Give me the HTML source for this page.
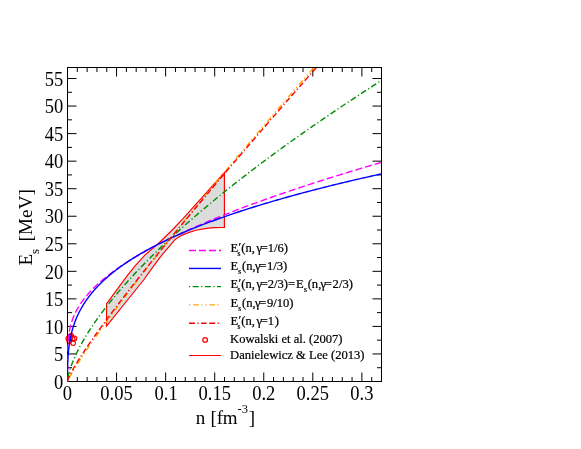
<!DOCTYPE html>
<html><head><meta charset="utf-8"><title>Symmetry energy</title>
<style>html,body{margin:0;padding:0;background:#fff}svg{display:block;will-change:transform}</style></head>
<body>
<svg width="581" height="449" viewBox="0 0 581 449">
<rect width="581" height="449" fill="#fff"/>
<defs><clipPath id="c"><rect x="67.15" y="67.5" width="314.35" height="314.35"/></clipPath></defs>
<g clip-path="url(#c)">
<path d="M106.5,303.9 L126.7,276.4 L135.1,265.8 L144.9,255.1 L160,242.0 L166.1,236.0 L171.8,230.5 L182.8,218.8 L224.4,172.5 L224.4,227.4 L213,227.6 L205,228.6 L196,230.3 L189.1,232.4 L182.2,235.1 L177.4,237.9 L174.6,240 L171.9,243.4 L167.1,248.9 L160,257.4 L151.2,269.4 L143.6,280 L106.5,326.2Z" fill="#dcdcdc" stroke="#ff0000" stroke-width="1.15" stroke-linejoin="miter"/>
</g>
<circle cx="68.3" cy="338.6" r="2.35" fill="none" stroke="#ff0000" stroke-width="1.1"/>
<circle cx="69.3" cy="337.5" r="2.35" fill="none" stroke="#ff0000" stroke-width="1.1"/>
<circle cx="70.3" cy="336.5" r="2.35" fill="none" stroke="#ff0000" stroke-width="1.1"/>
<circle cx="71.2" cy="335.6" r="2.35" fill="none" stroke="#ff0000" stroke-width="1.1"/>
<circle cx="72.6" cy="338.9" r="2.35" fill="none" stroke="#ff0000" stroke-width="1.1"/>
<circle cx="74.4" cy="338.5" r="2.35" fill="none" stroke="#ff0000" stroke-width="1.1"/>
<circle cx="73.1" cy="343.1" r="2.35" fill="none" stroke="#ff0000" stroke-width="1.1"/>
<circle cx="69.2" cy="341.0" r="2.35" fill="none" stroke="#ff0000" stroke-width="1.1"/>
<rect x="67.5" y="67.5" width="314.0" height="314.0" fill="none" stroke="#000" stroke-width="1"/>
<path d="M67.50,381.5v-9M67.50,67.5v9M77.31,381.5v-4.5M77.31,67.5v4.5M87.12,381.5v-4.5M87.12,67.5v4.5M96.94,381.5v-4.5M96.94,67.5v4.5M106.75,381.5v-4.5M106.75,67.5v4.5M116.56,381.5v-9M116.56,67.5v9M126.38,381.5v-4.5M126.38,67.5v4.5M136.19,381.5v-4.5M136.19,67.5v4.5M146.00,381.5v-4.5M146.00,67.5v4.5M155.81,381.5v-4.5M155.81,67.5v4.5M165.62,381.5v-9M165.62,67.5v9M175.44,381.5v-4.5M175.44,67.5v4.5M185.25,381.5v-4.5M185.25,67.5v4.5M195.06,381.5v-4.5M195.06,67.5v4.5M204.88,381.5v-4.5M204.88,67.5v4.5M214.69,381.5v-9M214.69,67.5v9M224.50,381.5v-4.5M224.50,67.5v4.5M234.31,381.5v-4.5M234.31,67.5v4.5M244.12,381.5v-4.5M244.12,67.5v4.5M253.94,381.5v-4.5M253.94,67.5v4.5M263.75,381.5v-9M263.75,67.5v9M273.56,381.5v-4.5M273.56,67.5v4.5M283.38,381.5v-4.5M283.38,67.5v4.5M293.19,381.5v-4.5M293.19,67.5v4.5M303.00,381.5v-4.5M303.00,67.5v4.5M312.81,381.5v-9M312.81,67.5v9M322.62,381.5v-4.5M322.62,67.5v4.5M332.44,381.5v-4.5M332.44,67.5v4.5M342.25,381.5v-4.5M342.25,67.5v4.5M352.06,381.5v-4.5M352.06,67.5v4.5M361.88,381.5v-9M361.88,67.5v9M371.69,381.5v-4.5M371.69,67.5v4.5M381.50,381.5v-4.5M381.50,67.5v4.5M67.5,381.50h9M381.5,381.50h-9M67.5,367.73h4.5M381.5,367.73h-4.5M67.5,353.96h9M381.5,353.96h-9M67.5,340.18h4.5M381.5,340.18h-4.5M67.5,326.41h9M381.5,326.41h-9M67.5,312.64h4.5M381.5,312.64h-4.5M67.5,298.87h9M381.5,298.87h-9M67.5,285.10h4.5M381.5,285.10h-4.5M67.5,271.32h9M381.5,271.32h-9M67.5,257.55h4.5M381.5,257.55h-4.5M67.5,243.78h9M381.5,243.78h-9M67.5,230.01h4.5M381.5,230.01h-4.5M67.5,216.24h9M381.5,216.24h-9M67.5,202.46h4.5M381.5,202.46h-4.5M67.5,188.69h9M381.5,188.69h-9M67.5,174.92h4.5M381.5,174.92h-4.5M67.5,161.15h9M381.5,161.15h-9M67.5,147.38h4.5M381.5,147.38h-4.5M67.5,133.61h9M381.5,133.61h-9M67.5,119.83h4.5M381.5,119.83h-4.5M67.5,106.06h9M381.5,106.06h-9M67.5,92.29h4.5M381.5,92.29h-4.5M67.5,78.52h9M381.5,78.52h-9" stroke="#000" stroke-width="1" fill="none"/>
<g clip-path="url(#c)">
<path d="M67.50,381.50 L67.50,365.39 L67.51,361.14 L67.53,358.12 L67.55,355.69 L67.58,353.61 L67.61,351.77 L67.65,350.11 L67.70,348.58 L67.75,347.16 L67.81,345.83 L67.87,344.56 L67.94,343.36 L68.02,342.21 L68.10,341.11 L68.19,340.05 L68.28,339.02 L68.39,338.02 L68.49,337.06 L68.61,336.12 L68.73,335.20 L68.85,334.30 L68.98,333.42 L69.12,332.56 L69.27,331.72 L69.42,330.89 L69.57,330.08 L69.74,329.28 L69.90,328.49 L70.08,327.71 L70.26,326.94 L70.45,326.19 L70.64,325.44 L70.84,324.70 L71.04,323.97 L71.26,323.25 L71.47,322.54 L71.70,321.83 L71.93,321.13 L72.16,320.43 L72.41,319.75 L72.65,319.06 L72.91,318.39 L73.17,317.71 L73.44,317.05 L73.71,316.39 L73.99,315.73 L74.27,315.07 L74.56,314.42 L74.86,313.78 L75.17,313.14 L75.48,312.50 L75.79,311.87 L76.11,311.23 L76.44,310.61 L76.78,309.98 L77.12,309.36 L77.46,308.74 L77.82,308.12 L78.17,307.51 L78.54,306.90 L78.91,306.29 L79.29,305.68 L79.67,305.08 L80.06,304.48 L80.46,303.88 L80.86,303.28 L81.27,302.68 L81.68,302.09 L82.10,301.50 L82.53,300.91 L82.96,300.32 L83.40,299.73 L83.84,299.15 L84.29,298.56 L84.75,297.98 L85.21,297.40 L85.68,296.82 L86.16,296.24 L86.64,295.66 L87.12,295.09 L87.62,294.51 L88.12,293.94 L88.62,293.37 L89.14,292.80 L89.65,292.23 L90.18,291.66 L90.71,291.09 L91.25,290.52 L91.79,289.95 L92.34,289.39 L92.89,288.82 L93.45,288.26 L94.02,287.70 L94.59,287.14 L95.17,286.57 L95.76,286.01 L96.35,285.45 L96.95,284.89 L97.55,284.34 L98.16,283.78 L98.78,283.22 L99.40,282.66 L100.03,282.11 L100.67,281.55 L101.31,281.00 L101.95,280.44 L102.61,279.89 L103.27,279.34 L103.93,278.78 L104.60,278.23 L105.28,277.68 L105.97,277.13 L106.65,276.58 L107.35,276.03 L108.05,275.48 L108.76,274.93 L109.48,274.38 L110.20,273.83 L110.92,273.28 L111.66,272.73 L112.40,272.18 L113.14,271.63 L113.89,271.08 L114.65,270.54 L115.41,269.99 L116.18,269.44 L116.96,268.90 L117.74,268.35 L118.53,267.80 L119.32,267.26 L120.12,266.71 L120.93,266.17 L121.74,265.62 L122.56,265.08 L123.39,264.53 L124.22,263.99 L125.05,263.44 L125.90,262.90 L126.75,262.35 L127.60,261.81 L128.46,261.26 L129.33,260.72 L130.20,260.17 L131.09,259.63 L131.97,259.09 L132.86,258.54 L133.76,258.00 L134.67,257.46 L135.58,256.91 L136.49,256.37 L137.42,255.83 L138.35,255.28 L139.28,254.74 L140.22,254.20 L141.17,253.65 L142.12,253.11 L143.08,252.57 L144.05,252.02 L145.02,251.48 L146.00,250.94 L146.98,250.39 L147.97,249.85 L148.97,249.31 L149.97,248.76 L150.98,248.22 L152.00,247.68 L153.02,247.13 L154.05,246.59 L155.08,246.05 L156.12,245.50 L157.16,244.96 L158.22,244.42 L159.27,243.87 L160.34,243.33 L161.41,242.79 L162.49,242.24 L163.57,241.70 L164.66,241.16 L165.75,240.61 L166.85,240.07 L167.96,239.52 L169.07,238.98 L170.19,238.44 L171.32,237.89 L172.45,237.35 L173.59,236.80 L174.73,236.26 L175.88,235.72 L177.04,235.17 L178.20,234.63 L179.37,234.08 L180.54,233.54 L181.72,232.99 L182.91,232.45 L184.10,231.90 L185.30,231.36 L186.50,230.81 L187.72,230.26 L188.93,229.72 L190.16,229.17 L191.39,228.63 L192.62,228.08 L193.86,227.53 L195.11,226.99 L196.37,226.44 L197.63,225.89 L198.89,225.35 L200.17,224.80 L201.44,224.25 L202.73,223.71 L204.02,223.16 L205.32,222.61 L206.62,222.06 L207.93,221.52 L209.24,220.97 L210.57,220.42 L211.89,219.87 L213.23,219.32 L214.57,218.77 L215.91,218.23 L217.27,217.68 L218.62,217.13 L219.99,216.58 L221.36,216.03 L222.74,215.48 L224.12,214.93 L225.51,214.38 L226.90,213.83 L228.31,213.28 L229.71,212.73 L231.13,212.18 L232.55,211.63 L233.97,211.08 L235.40,210.52 L236.84,209.97 L238.29,209.42 L239.74,208.87 L241.19,208.32 L242.66,207.77 L244.12,207.21 L245.60,206.66 L247.08,206.11 L248.57,205.55 L250.06,205.00 L251.56,204.45 L253.07,203.90 L254.58,203.34 L256.10,202.79 L257.62,202.23 L259.15,201.68 L260.69,201.12 L262.23,200.57 L263.78,200.02 L265.33,199.46 L266.89,198.90 L268.46,198.35 L270.03,197.79 L271.61,197.24 L273.20,196.68 L274.79,196.13 L276.39,195.57 L277.99,195.01 L279.60,194.46 L281.22,193.90 L282.84,193.34 L284.47,192.78 L286.10,192.23 L287.74,191.67 L289.39,191.11 L291.04,190.55 L292.70,189.99 L294.37,189.43 L296.04,188.87 L297.71,188.31 L299.40,187.76 L301.09,187.20 L302.78,186.64 L304.48,186.08 L306.19,185.51 L307.91,184.95 L309.63,184.39 L311.35,183.83 L313.09,183.27 L314.82,182.71 L316.57,182.15 L318.32,181.59 L320.08,181.02 L321.84,180.46 L323.61,179.90 L325.38,179.34 L327.17,178.77 L328.95,178.21 L330.75,177.65 L332.55,177.08 L334.35,176.52 L336.17,175.95 L337.98,175.39 L339.81,174.83 L341.64,174.26 L343.48,173.70 L345.32,173.13 L347.17,172.56 L349.02,172.00 L350.88,171.43 L352.75,170.87 L354.63,170.30 L356.51,169.73 L358.39,169.17 L360.28,168.60 L362.18,168.03 L364.09,167.46 L366.00,166.90 L367.91,166.33 L369.84,165.76 L371.76,165.19 L373.70,164.62 L375.64,164.05 L377.59,163.48 L379.54,162.91 L381.50,162.34" fill="none" stroke="#ff00ff" stroke-width="1.4" stroke-dasharray="7 3"/>
<path d="M67.50,381.50 L67.50,377.06 L67.51,374.45 L67.53,372.27 L67.55,370.32 L67.58,368.52 L67.61,366.84 L67.65,365.26 L67.70,363.75 L67.75,362.30 L67.81,360.90 L67.87,359.55 L67.94,358.24 L68.02,356.96 L68.10,355.72 L68.19,354.50 L68.28,353.32 L68.39,352.15 L68.49,351.01 L68.61,349.90 L68.73,348.80 L68.85,347.71 L68.98,346.65 L69.12,345.60 L69.27,344.57 L69.42,343.55 L69.57,342.54 L69.74,341.55 L69.90,340.57 L70.08,339.60 L70.26,338.65 L70.45,337.70 L70.64,336.76 L70.84,335.83 L71.04,334.92 L71.26,334.01 L71.47,333.11 L71.70,332.21 L71.93,331.33 L72.16,330.45 L72.41,329.59 L72.65,328.72 L72.91,327.87 L73.17,327.02 L73.44,326.18 L73.71,325.34 L73.99,324.52 L74.27,323.69 L74.56,322.88 L74.86,322.06 L75.17,321.26 L75.48,320.46 L75.79,319.66 L76.11,318.87 L76.44,318.09 L76.78,317.31 L77.12,316.53 L77.46,315.76 L77.82,314.99 L78.17,314.23 L78.54,313.47 L78.91,312.72 L79.29,311.97 L79.67,311.22 L80.06,310.48 L80.46,309.74 L80.86,309.01 L81.27,308.28 L81.68,307.55 L82.10,306.83 L82.53,306.11 L82.96,305.39 L83.40,304.68 L83.84,303.97 L84.29,303.26 L84.75,302.56 L85.21,301.86 L85.68,301.16 L86.16,300.47 L86.64,299.78 L87.12,299.09 L87.62,298.41 L88.12,297.72 L88.62,297.04 L89.14,296.37 L89.65,295.69 L90.18,295.02 L90.71,294.35 L91.25,293.68 L91.79,293.02 L92.34,292.36 L92.89,291.70 L93.45,291.04 L94.02,290.39 L94.59,289.74 L95.17,289.09 L95.76,288.44 L96.35,287.79 L96.95,287.15 L97.55,286.51 L98.16,285.87 L98.78,285.24 L99.40,284.60 L100.03,283.97 L100.67,283.34 L101.31,282.71 L101.95,282.08 L102.61,281.46 L103.27,280.84 L103.93,280.22 L104.60,279.60 L105.28,278.98 L105.97,278.37 L106.65,277.75 L107.35,277.14 L108.05,276.53 L108.76,275.93 L109.48,275.32 L110.20,274.72 L110.92,274.11 L111.66,273.51 L112.40,272.91 L113.14,272.32 L113.89,271.72 L114.65,271.13 L115.41,270.53 L116.18,269.94 L116.96,269.35 L117.74,268.77 L118.53,268.18 L119.32,267.59 L120.12,267.01 L120.93,266.43 L121.74,265.85 L122.56,265.27 L123.39,264.69 L124.22,264.12 L125.05,263.54 L125.90,262.97 L126.75,262.40 L127.60,261.83 L128.46,261.26 L129.33,260.69 L130.20,260.12 L131.09,259.56 L131.97,258.99 L132.86,258.43 L133.76,257.87 L134.67,257.31 L135.58,256.75 L136.49,256.19 L137.42,255.64 L138.35,255.08 L139.28,254.53 L140.22,253.97 L141.17,253.42 L142.12,252.87 L143.08,252.32 L144.05,251.78 L145.02,251.23 L146.00,250.68 L146.98,250.14 L147.97,249.60 L148.97,249.05 L149.97,248.51 L150.98,247.97 L152.00,247.43 L153.02,246.90 L154.05,246.36 L155.08,245.82 L156.12,245.29 L157.16,244.75 L158.22,244.22 L159.27,243.69 L160.34,243.16 L161.41,242.63 L162.49,242.10 L163.57,241.57 L164.66,241.05 L165.75,240.52 L166.85,240.00 L167.96,239.47 L169.07,238.95 L170.19,238.43 L171.32,237.91 L172.45,237.39 L173.59,236.87 L174.73,236.35 L175.88,235.84 L177.04,235.32 L178.20,234.80 L179.37,234.29 L180.54,233.78 L181.72,233.26 L182.91,232.75 L184.10,232.24 L185.30,231.73 L186.50,231.22 L187.72,230.71 L188.93,230.21 L190.16,229.70 L191.39,229.20 L192.62,228.69 L193.86,228.19 L195.11,227.68 L196.37,227.18 L197.63,226.68 L198.89,226.18 L200.17,225.68 L201.44,225.18 L202.73,224.68 L204.02,224.19 L205.32,223.69 L206.62,223.19 L207.93,222.70 L209.24,222.20 L210.57,221.71 L211.89,221.22 L213.23,220.72 L214.57,220.23 L215.91,219.74 L217.27,219.25 L218.62,218.76 L219.99,218.28 L221.36,217.79 L222.74,217.30 L224.12,216.82 L225.51,216.33 L226.90,215.84 L228.31,215.36 L229.71,214.88 L231.13,214.39 L232.55,213.91 L233.97,213.43 L235.40,212.95 L236.84,212.47 L238.29,211.99 L239.74,211.51 L241.19,211.04 L242.66,210.56 L244.12,210.08 L245.60,209.61 L247.08,209.13 L248.57,208.66 L250.06,208.18 L251.56,207.71 L253.07,207.24 L254.58,206.77 L256.10,206.29 L257.62,205.82 L259.15,205.35 L260.69,204.88 L262.23,204.41 L263.78,203.95 L265.33,203.48 L266.89,203.01 L268.46,202.55 L270.03,202.08 L271.61,201.62 L273.20,201.15 L274.79,200.69 L276.39,200.22 L277.99,199.76 L279.60,199.30 L281.22,198.84 L282.84,198.38 L284.47,197.92 L286.10,197.46 L287.74,197.00 L289.39,196.54 L291.04,196.08 L292.70,195.62 L294.37,195.17 L296.04,194.71 L297.71,194.25 L299.40,193.80 L301.09,193.34 L302.78,192.89 L304.48,192.43 L306.19,191.98 L307.91,191.53 L309.63,191.08 L311.35,190.63 L313.09,190.17 L314.82,189.72 L316.57,189.27 L318.32,188.82 L320.08,188.38 L321.84,187.93 L323.61,187.48 L325.38,187.03 L327.17,186.59 L328.95,186.14 L330.75,185.69 L332.55,185.25 L334.35,184.80 L336.17,184.36 L337.98,183.92 L339.81,183.47 L341.64,183.03 L343.48,182.59 L345.32,182.15 L347.17,181.70 L349.02,181.26 L350.88,180.82 L352.75,180.38 L354.63,179.94 L356.51,179.50 L358.39,179.07 L360.28,178.63 L362.18,178.19 L364.09,177.75 L366.00,177.32 L367.91,176.88 L369.84,176.45 L371.76,176.01 L373.70,175.58 L375.64,175.14 L377.59,174.71 L379.54,174.27 L381.50,173.84" fill="none" stroke="#0000ff" stroke-width="1.4"/>
<path d="M67.50,381.50 L67.50,381.36 L67.51,381.15 L67.53,380.90 L67.55,380.63 L67.58,380.32 L67.61,380.00 L67.65,379.66 L67.70,379.30 L67.75,378.92 L67.81,378.54 L67.87,378.13 L67.94,377.72 L68.02,377.30 L68.10,376.86 L68.19,376.41 L68.28,375.95 L68.39,375.49 L68.49,375.01 L68.61,374.53 L68.73,374.03 L68.85,373.53 L68.98,373.02 L69.12,372.50 L69.27,371.98 L69.42,371.44 L69.57,370.91 L69.74,370.36 L69.90,369.80 L70.08,369.24 L70.26,368.68 L70.45,368.10 L70.64,367.53 L70.84,366.94 L71.04,366.35 L71.26,365.75 L71.47,365.15 L71.70,364.54 L71.93,363.93 L72.16,363.31 L72.41,362.68 L72.65,362.05 L72.91,361.42 L73.17,360.78 L73.44,360.13 L73.71,359.48 L73.99,358.83 L74.27,358.17 L74.56,357.50 L74.86,356.84 L75.17,356.16 L75.48,355.48 L75.79,354.80 L76.11,354.12 L76.44,353.42 L76.78,352.73 L77.12,352.03 L77.46,351.33 L77.82,350.62 L78.17,349.91 L78.54,349.19 L78.91,348.47 L79.29,347.75 L79.67,347.02 L80.06,346.29 L80.46,345.55 L80.86,344.81 L81.27,344.07 L81.68,343.32 L82.10,342.57 L82.53,341.82 L82.96,341.06 L83.40,340.30 L83.84,339.53 L84.29,338.77 L84.75,337.99 L85.21,337.22 L85.68,336.44 L86.16,335.66 L86.64,334.87 L87.12,334.08 L87.62,333.29 L88.12,332.50 L88.62,331.70 L89.14,330.90 L89.65,330.09 L90.18,329.28 L90.71,328.47 L91.25,327.66 L91.79,326.84 L92.34,326.02 L92.89,325.20 L93.45,324.37 L94.02,323.54 L94.59,322.71 L95.17,321.87 L95.76,321.04 L96.35,320.19 L96.95,319.35 L97.55,318.50 L98.16,317.65 L98.78,316.80 L99.40,315.95 L100.03,315.09 L100.67,314.23 L101.31,313.36 L101.95,312.50 L102.61,311.63 L103.27,310.75 L103.93,309.88 L104.60,309.00 L105.28,308.12 L105.97,307.24 L106.65,306.35 L107.35,305.47 L108.05,304.58 L108.76,303.68 L109.48,302.79 L110.20,301.89 L110.92,300.99 L111.66,300.08 L112.40,299.18 L113.14,298.27 L113.89,297.36 L114.65,296.45 L115.41,295.53 L116.18,294.61 L116.96,293.69 L117.74,292.77 L118.53,291.84 L119.32,290.91 L120.12,289.98 L120.93,289.05 L121.74,288.12 L122.56,287.18 L123.39,286.24 L124.22,285.30 L125.05,284.35 L125.90,283.41 L126.75,282.46 L127.60,281.51 L128.46,280.55 L129.33,279.60 L130.20,278.64 L131.09,277.68 L131.97,276.72 L132.86,275.75 L133.76,274.79 L134.67,273.82 L135.58,272.84 L136.49,271.87 L137.42,270.90 L138.35,269.92 L139.28,268.94 L140.22,267.96 L141.17,266.97 L142.12,265.99 L143.08,265.00 L144.05,264.01 L145.02,263.01 L146.00,262.02 L146.98,261.02 L147.97,260.02 L148.97,259.02 L149.97,258.02 L150.98,257.02 L152.00,256.01 L153.02,255.00 L154.05,253.99 L155.08,252.98 L156.12,251.96 L157.16,250.94 L158.22,249.93 L159.27,248.90 L160.34,247.88 L161.41,246.86 L162.49,245.83 L163.57,244.80 L164.66,243.77 L165.75,242.74 L166.85,241.70 L167.96,240.67 L169.07,239.63 L170.19,238.59 L171.32,237.55 L172.45,236.50 L173.59,235.46 L174.73,234.41 L175.88,233.36 L177.04,232.31 L178.20,231.25 L179.37,230.20 L180.54,229.14 L181.72,228.08 L182.91,227.02 L184.10,225.96 L185.30,224.89 L186.50,223.83 L187.72,222.76 L188.93,221.69 L190.16,220.62 L191.39,219.54 L192.62,218.47 L193.86,217.39 L195.11,216.31 L196.37,215.23 L197.63,214.15 L198.89,213.07 L200.17,211.98 L201.44,210.89 L202.73,209.80 L204.02,208.71 L205.32,207.62 L206.62,206.53 L207.93,205.43 L209.24,204.33 L210.57,203.23 L211.89,202.13 L213.23,201.03 L214.57,199.92 L215.91,198.82 L217.27,197.71 L218.62,196.60 L219.99,195.49 L221.36,194.37 L222.74,193.26 L224.12,192.14 L225.51,191.03 L226.90,189.91 L228.31,188.78 L229.71,187.66 L231.13,186.54 L232.55,185.41 L233.97,184.28 L235.40,183.15 L236.84,182.02 L238.29,180.89 L239.74,179.76 L241.19,178.62 L242.66,177.48 L244.12,176.34 L245.60,175.20 L247.08,174.06 L248.57,172.92 L250.06,171.77 L251.56,170.63 L253.07,169.48 L254.58,168.33 L256.10,167.18 L257.62,166.02 L259.15,164.87 L260.69,163.71 L262.23,162.55 L263.78,161.40 L265.33,160.23 L266.89,159.07 L268.46,157.91 L270.03,156.74 L271.61,155.58 L273.20,154.41 L274.79,153.24 L276.39,152.07 L277.99,150.89 L279.60,149.72 L281.22,148.54 L282.84,147.37 L284.47,146.19 L286.10,145.01 L287.74,143.83 L289.39,142.64 L291.04,141.46 L292.70,140.27 L294.37,139.08 L296.04,137.90 L297.71,136.70 L299.40,135.51 L301.09,134.32 L302.78,133.12 L304.48,131.93 L306.19,130.73 L307.91,129.53 L309.63,128.33 L311.35,127.13 L313.09,125.93 L314.82,124.72 L316.57,123.51 L318.32,122.31 L320.08,121.10 L321.84,119.89 L323.61,118.68 L325.38,117.46 L327.17,116.25 L328.95,115.03 L330.75,113.81 L332.55,112.60 L334.35,111.38 L336.17,110.15 L337.98,108.93 L339.81,107.71 L341.64,106.48 L343.48,105.25 L345.32,104.02 L347.17,102.80 L349.02,101.56 L350.88,100.33 L352.75,99.10 L354.63,97.86 L356.51,96.63 L358.39,95.39 L360.28,94.15 L362.18,92.91 L364.09,91.67 L366.00,90.42 L367.91,89.18 L369.84,87.93 L371.76,86.69 L373.70,85.44 L375.64,84.19 L377.59,82.94 L379.54,81.68 L381.50,80.43" fill="none" stroke="#008b00" stroke-width="1.4" stroke-dasharray="1.2 2.5 6 2.5"/>
<path d="M67.50,381.50 L67.50,381.49 L67.51,381.46 L67.53,381.41 L67.55,381.35 L67.58,381.28 L67.61,381.20 L67.65,381.10 L67.70,380.99 L67.75,380.87 L67.81,380.74 L67.87,380.59 L67.94,380.44 L68.02,380.28 L68.10,380.10 L68.19,379.92 L68.28,379.72 L68.39,379.52 L68.49,379.30 L68.61,379.08 L68.73,378.84 L68.85,378.60 L68.98,378.35 L69.12,378.08 L69.27,377.81 L69.42,377.53 L69.57,377.24 L69.74,376.94 L69.90,376.63 L70.08,376.32 L70.26,375.99 L70.45,375.66 L70.64,375.31 L70.84,374.96 L71.04,374.60 L71.26,374.23 L71.47,373.85 L71.70,373.46 L71.93,373.07 L72.16,372.66 L72.41,372.25 L72.65,371.83 L72.91,371.40 L73.17,370.97 L73.44,370.52 L73.71,370.07 L73.99,369.61 L74.27,369.14 L74.56,368.66 L74.86,368.17 L75.17,367.68 L75.48,367.18 L75.79,366.67 L76.11,366.15 L76.44,365.63 L76.78,365.10 L77.12,364.55 L77.46,364.01 L77.82,363.45 L78.17,362.89 L78.54,362.31 L78.91,361.73 L79.29,361.15 L79.67,360.55 L80.06,359.95 L80.46,359.34 L80.86,358.72 L81.27,358.10 L81.68,357.47 L82.10,356.83 L82.53,356.18 L82.96,355.52 L83.40,354.86 L83.84,354.19 L84.29,353.51 L84.75,352.83 L85.21,352.14 L85.68,351.44 L86.16,350.73 L86.64,350.02 L87.12,349.30 L87.62,348.57 L88.12,347.83 L88.62,347.09 L89.14,346.34 L89.65,345.58 L90.18,344.82 L90.71,344.05 L91.25,343.27 L91.79,342.49 L92.34,341.69 L92.89,340.89 L93.45,340.09 L94.02,339.27 L94.59,338.45 L95.17,337.62 L95.76,336.79 L96.35,335.95 L96.95,335.10 L97.55,334.24 L98.16,333.38 L98.78,332.51 L99.40,331.63 L100.03,330.75 L100.67,329.86 L101.31,328.96 L101.95,328.06 L102.61,327.15 L103.27,326.23 L103.93,325.31 L104.60,324.37 L105.28,323.44 L105.97,322.49 L106.65,321.54 L107.35,320.58 L108.05,319.62 L108.76,318.64 L109.48,317.67 L110.20,316.68 L110.92,315.69 L111.66,314.69 L112.40,313.68 L113.14,312.67 L113.89,311.65 L114.65,310.63 L115.41,309.59 L116.18,308.56 L116.96,307.51 L117.74,306.46 L118.53,305.40 L119.32,304.33 L120.12,303.26 L120.93,302.18 L121.74,301.10 L122.56,300.01 L123.39,298.91 L124.22,297.81 L125.05,296.70 L125.90,295.58 L126.75,294.45 L127.60,293.32 L128.46,292.19 L129.33,291.04 L130.20,289.89 L131.09,288.74 L131.97,287.57 L132.86,286.40 L133.76,285.23 L134.67,284.05 L135.58,282.86 L136.49,281.66 L137.42,280.46 L138.35,279.26 L139.28,278.04 L140.22,276.82 L141.17,275.59 L142.12,274.36 L143.08,273.12 L144.05,271.88 L145.02,270.62 L146.00,269.37 L146.98,268.10 L147.97,266.83 L148.97,265.55 L149.97,264.27 L150.98,262.98 L152.00,261.68 L153.02,260.38 L154.05,259.07 L155.08,257.76 L156.12,256.44 L157.16,255.11 L158.22,253.78 L159.27,252.44 L160.34,251.09 L161.41,249.74 L162.49,248.38 L163.57,247.01 L164.66,245.64 L165.75,244.27 L166.85,242.88 L167.96,241.49 L169.07,240.10 L170.19,238.70 L171.32,237.29 L172.45,235.88 L173.59,234.46 L174.73,233.03 L175.88,231.60 L177.04,230.16 L178.20,228.72 L179.37,227.27 L180.54,225.81 L181.72,224.35 L182.91,222.88 L184.10,221.40 L185.30,219.92 L186.50,218.43 L187.72,216.94 L188.93,215.44 L190.16,213.94 L191.39,212.43 L192.62,210.91 L193.86,209.39 L195.11,207.86 L196.37,206.32 L197.63,204.78 L198.89,203.23 L200.17,201.68 L201.44,200.12 L202.73,198.56 L204.02,196.99 L205.32,195.41 L206.62,193.83 L207.93,192.24 L209.24,190.64 L210.57,189.04 L211.89,187.43 L213.23,185.82 L214.57,184.20 L215.91,182.58 L217.27,180.95 L218.62,179.31 L219.99,177.67 L221.36,176.02 L222.74,174.37 L224.12,172.71 L225.51,171.04 L226.90,169.37 L228.31,167.69 L229.71,166.01 L231.13,164.32 L232.55,162.62 L233.97,160.92 L235.40,159.21 L236.84,157.50 L238.29,155.78 L239.74,154.06 L241.19,152.33 L242.66,150.59 L244.12,148.85 L245.60,147.10 L247.08,145.35 L248.57,143.59 L250.06,141.82 L251.56,140.05 L253.07,138.28 L254.58,136.49 L256.10,134.71 L257.62,132.91 L259.15,131.11 L260.69,129.31 L262.23,127.49 L263.78,125.68 L265.33,123.85 L266.89,122.03 L268.46,120.19 L270.03,118.35 L271.61,116.50 L273.20,114.65 L274.79,112.80 L276.39,110.93 L277.99,109.06 L279.60,107.19 L281.22,105.31 L282.84,103.42 L284.47,101.53 L286.10,99.63 L287.74,97.73 L289.39,95.82 L291.04,93.91 L292.70,91.99 L294.37,90.06 L296.04,88.13 L297.71,86.19 L299.40,84.25 L301.09,82.30 L302.78,80.35 L304.48,78.39 L306.19,76.42 L307.91,74.45 L309.63,72.47 L311.35,70.49 L313.09,68.50 L314.82,66.51 L316.57,64.51 L318.32,62.51 L320.08,60.50 L321.84,58.48 L323.61,56.46 L325.38,54.43 L327.17,52.40 L328.95,50.36 L330.75,48.32 L332.55,46.27 L334.35,44.21 L336.17,42.15 L337.98,40.08 L339.81,38.01 L341.64,35.93 L343.48,33.85 L345.32,31.76 L347.17,29.67 L349.02,27.57 L350.88,25.46 L352.75,23.35 L354.63,21.24 L356.51,19.11 L358.39,16.99 L360.28,14.85 L362.18,12.71 L364.09,10.57 L366.00,8.42 L367.91,6.27 L369.84,4.10 L371.76,1.94 L373.70,-0.23 L375.64,-2.41 L377.59,-4.59 L379.54,-6.78 L381.50,-8.97" fill="none" stroke="#ffa500" stroke-width="1.4" stroke-dasharray="1.2 2.8 1.2 3 5.6 2.4" stroke-dashoffset="4"/>
<path d="M67.50,381.50 L67.50,381.45 L67.51,381.36 L67.53,381.26 L67.55,381.14 L67.58,381.01 L67.61,380.86 L67.65,380.70 L67.70,380.53 L67.75,380.35 L67.81,380.15 L67.87,379.95 L67.94,379.74 L68.02,379.51 L68.10,379.28 L68.19,379.04 L68.28,378.79 L68.39,378.53 L68.49,378.26 L68.61,377.99 L68.73,377.70 L68.85,377.41 L68.98,377.11 L69.12,376.80 L69.27,376.48 L69.42,376.15 L69.57,375.82 L69.74,375.48 L69.90,375.13 L70.08,374.77 L70.26,374.40 L70.45,374.03 L70.64,373.65 L70.84,373.26 L71.04,372.86 L71.26,372.46 L71.47,372.04 L71.70,371.63 L71.93,371.20 L72.16,370.77 L72.41,370.32 L72.65,369.88 L72.91,369.42 L73.17,368.96 L73.44,368.49 L73.71,368.01 L73.99,367.52 L74.27,367.03 L74.56,366.53 L74.86,366.03 L75.17,365.51 L75.48,364.99 L75.79,364.47 L76.11,363.93 L76.44,363.39 L76.78,362.84 L77.12,362.29 L77.46,361.72 L77.82,361.15 L78.17,360.58 L78.54,359.99 L78.91,359.40 L79.29,358.81 L79.67,358.20 L80.06,357.59 L80.46,356.98 L80.86,356.35 L81.27,355.72 L81.68,355.08 L82.10,354.44 L82.53,353.79 L82.96,353.13 L83.40,352.47 L83.84,351.79 L84.29,351.12 L84.75,350.43 L85.21,349.74 L85.68,349.04 L86.16,348.34 L86.64,347.63 L87.12,346.91 L87.62,346.18 L88.12,345.45 L88.62,344.71 L89.14,343.97 L89.65,343.22 L90.18,342.46 L90.71,341.70 L91.25,340.93 L91.79,340.15 L92.34,339.37 L92.89,338.57 L93.45,337.78 L94.02,336.97 L94.59,336.16 L95.17,335.35 L95.76,334.53 L96.35,333.70 L96.95,332.86 L97.55,332.02 L98.16,331.17 L98.78,330.31 L99.40,329.45 L100.03,328.58 L100.67,327.71 L101.31,326.83 L101.95,325.94 L102.61,325.05 L103.27,324.15 L103.93,323.24 L104.60,322.33 L105.28,321.41 L105.97,320.48 L106.65,319.55 L107.35,318.61 L108.05,317.66 L108.76,316.71 L109.48,315.75 L110.20,314.79 L110.92,313.82 L111.66,312.84 L112.40,311.86 L113.14,310.87 L113.89,309.87 L114.65,308.87 L115.41,307.86 L116.18,306.85 L116.96,305.83 L117.74,304.80 L118.53,303.77 L119.32,302.73 L120.12,301.68 L120.93,300.63 L121.74,299.57 L122.56,298.50 L123.39,297.43 L124.22,296.35 L125.05,295.27 L125.90,294.18 L126.75,293.08 L127.60,291.98 L128.46,290.87 L129.33,289.76 L130.20,288.63 L131.09,287.51 L131.97,286.37 L132.86,285.23 L133.76,284.09 L134.67,282.93 L135.58,281.77 L136.49,280.61 L137.42,279.44 L138.35,278.26 L139.28,277.08 L140.22,275.89 L141.17,274.69 L142.12,273.49 L143.08,272.28 L144.05,271.06 L145.02,269.84 L146.00,268.61 L146.98,267.38 L147.97,266.14 L148.97,264.90 L149.97,263.64 L150.98,262.39 L152.00,261.12 L153.02,259.85 L154.05,258.57 L155.08,257.29 L156.12,256.00 L157.16,254.71 L158.22,253.41 L159.27,252.10 L160.34,250.79 L161.41,249.47 L162.49,248.14 L163.57,246.81 L164.66,245.47 L165.75,244.13 L166.85,242.78 L167.96,241.42 L169.07,240.06 L170.19,238.69 L171.32,237.31 L172.45,235.93 L173.59,234.55 L174.73,233.15 L175.88,231.75 L177.04,230.35 L178.20,228.94 L179.37,227.52 L180.54,226.09 L181.72,224.66 L182.91,223.23 L184.10,221.79 L185.30,220.34 L186.50,218.88 L187.72,217.42 L188.93,215.96 L190.16,214.49 L191.39,213.01 L192.62,211.52 L193.86,210.03 L195.11,208.54 L196.37,207.03 L197.63,205.52 L198.89,204.01 L200.17,202.49 L201.44,200.96 L202.73,199.43 L204.02,197.89 L205.32,196.34 L206.62,194.79 L207.93,193.23 L209.24,191.67 L210.57,190.10 L211.89,188.53 L213.23,186.95 L214.57,185.36 L215.91,183.76 L217.27,182.16 L218.62,180.56 L219.99,178.95 L221.36,177.33 L222.74,175.71 L224.12,174.08 L225.51,172.44 L226.90,170.80 L228.31,169.15 L229.71,167.50 L231.13,165.84 L232.55,164.17 L233.97,162.50 L235.40,160.82 L236.84,159.14 L238.29,157.45 L239.74,155.75 L241.19,154.05 L242.66,152.34 L244.12,150.63 L245.60,148.91 L247.08,147.18 L248.57,145.45 L250.06,143.71 L251.56,141.97 L253.07,140.22 L254.58,138.46 L256.10,136.70 L257.62,134.93 L259.15,133.16 L260.69,131.38 L262.23,129.59 L263.78,127.80 L265.33,126.00 L266.89,124.20 L268.46,122.39 L270.03,120.57 L271.61,118.75 L273.20,116.92 L274.79,115.09 L276.39,113.25 L277.99,111.40 L279.60,109.55 L281.22,107.69 L282.84,105.83 L284.47,103.96 L286.10,102.08 L287.74,100.20 L289.39,98.31 L291.04,96.42 L292.70,94.52 L294.37,92.62 L296.04,90.70 L297.71,88.79 L299.40,86.86 L301.09,84.93 L302.78,83.00 L304.48,81.06 L306.19,79.11 L307.91,77.16 L309.63,75.20 L311.35,73.23 L313.09,71.26 L314.82,69.29 L316.57,67.30 L318.32,65.31 L320.08,63.32 L321.84,61.32 L323.61,59.31 L325.38,57.30 L327.17,55.28 L328.95,53.26 L330.75,51.23 L332.55,49.19 L334.35,47.15 L336.17,45.10 L337.98,43.05 L339.81,40.99 L341.64,38.92 L343.48,36.85 L345.32,34.77 L347.17,32.69 L349.02,30.60 L350.88,28.50 L352.75,26.40 L354.63,24.29 L356.51,22.18 L358.39,20.06 L360.28,17.93 L362.18,15.80 L364.09,13.67 L366.00,11.52 L367.91,9.38 L369.84,7.22 L371.76,5.06 L373.70,2.89 L375.64,0.72 L377.59,-1.46 L379.54,-3.64 L381.50,-5.83" fill="none" stroke="#ff0000" stroke-width="1.4" stroke-dasharray="6 2.4 1.2 2.5 5.4 2.7"/>
</g>
<g font-family="'Liberation Serif', serif" font-size="19" fill="#000">
<text transform="translate(67.50,399.6) scale(0.975,1.075)" text-anchor="middle">0</text>
<text transform="translate(116.56,399.6) scale(0.975,1.075)" text-anchor="middle">0.05</text>
<text transform="translate(166.12,399.6) scale(0.975,1.075)" text-anchor="middle">0.1</text>
<text transform="translate(214.69,399.6) scale(0.975,1.075)" text-anchor="middle">0.15</text>
<text transform="translate(263.75,399.6) scale(0.975,1.075)" text-anchor="middle">0.2</text>
<text transform="translate(312.81,399.6) scale(0.975,1.075)" text-anchor="middle">0.25</text>
<text transform="translate(361.88,399.6) scale(0.975,1.075)" text-anchor="middle">0.3</text>
<text transform="translate(63.3,388.70) scale(0.975,1.07)" text-anchor="end">0</text>
<text transform="translate(63.3,361.16) scale(0.975,1.07)" text-anchor="end">5</text>
<text transform="translate(63.3,333.61) scale(0.975,1.07)" text-anchor="end">10</text>
<text transform="translate(63.3,306.07) scale(0.975,1.07)" text-anchor="end">15</text>
<text transform="translate(63.3,278.52) scale(0.975,1.07)" text-anchor="end">20</text>
<text transform="translate(63.3,250.98) scale(0.975,1.07)" text-anchor="end">25</text>
<text transform="translate(63.3,223.44) scale(0.975,1.07)" text-anchor="end">30</text>
<text transform="translate(63.3,195.89) scale(0.975,1.07)" text-anchor="end">35</text>
<text transform="translate(63.3,168.35) scale(0.975,1.07)" text-anchor="end">40</text>
<text transform="translate(63.3,140.81) scale(0.975,1.07)" text-anchor="end">45</text>
<text transform="translate(63.3,113.26) scale(0.975,1.07)" text-anchor="end">50</text>
<text transform="translate(63.3,85.72) scale(0.975,1.07)" text-anchor="end">55</text>
<text x="195.8" y="423.6">n <tspan dx="0.5">[f</tspan><tspan dx="-0.4">m</tspan><tspan font-size="12.5" dy="-10.9">-3</tspan><tspan dy="10.9" dx="0.7">]</tspan></text>
<text transform="translate(31.8,265.6) rotate(-90)">E<tspan font-size="13" dy="7.4">s</tspan><tspan dy="-7.4" dx="2.4" letter-spacing="0.2"> [MeV]</tspan></text>
</g>
<g font-family="'Liberation Serif', serif" font-size="13" fill="#000" stroke="#000" stroke-width="0.22">
<path d="M189,250.45H221" stroke="#ff00ff" stroke-width="1.4" fill="none" stroke-dasharray="7 3"/>
<path d="M189,268.45H221" stroke="#0000ff" stroke-width="1.4" fill="none"/>
<path d="M189,286.6H221" stroke="#008b00" stroke-width="1.4" fill="none" stroke-dasharray="1.2 2.5 6 2.5"/>
<path d="M189,304.9H221" stroke="#ffa500" stroke-width="1.4" fill="none" stroke-dasharray="1.2 2.8 1.2 3 5.6 2.4" stroke-dashoffset="4"/>
<path d="M189,323.2H221" stroke="#ff0000" stroke-width="1.4" fill="none" stroke-dasharray="6 2.4 1.2 2.5 5.4 2.7"/>
<circle cx="205.1" cy="339.9" r="2.3" fill="none" stroke="#ff0000" stroke-width="1.3"/>
<path d="M189,355.5H221" stroke="#ff0000" stroke-width="1" fill="none"/>
<text transform="translate(230.5,251.8) scale(0.968,1)">E<tspan dx="0.3" dy="-1">′</tspan><tspan font-size="7.8" dx="-3.9" dy="5.5">s</tspan><tspan dy="-4.5" dx="0.9">(n, <tspan dx="-1.6">γ</tspan><tspan dx="-1.4">=</tspan>1/6)</tspan></text>
<text transform="translate(230.5,269.8) scale(0.968,1)">E<tspan font-size="7.8" dx="0.2" dy="4.6">s</tspan><tspan dy="-4.6" dx="0.8">(n,<tspan dx="-0.7">γ</tspan><tspan dx="-1.5">=</tspan><tspan dx="0.8">1</tspan>/3)</tspan></text>
<text transform="translate(230.5,287.7) scale(0.968,1)">E<tspan dx="0.3" dy="-1">′</tspan><tspan font-size="7.8" dx="-3.9" dy="5.5">s</tspan><tspan dy="-4.5" dx="0.9">(n, <tspan dx="-1.6">γ</tspan><tspan dx="-1.4">=</tspan>2/3)=</tspan></text>
<text transform="translate(296.1,287.7) scale(0.968,1)">E<tspan font-size="7.8" dx="0.2" dy="4.6">s</tspan><tspan dy="-4.6" dx="0.8">(n,<tspan dx="-0.7">γ</tspan><tspan dx="-1.5">=</tspan><tspan dx="0.8">2</tspan>/3)</tspan></text>
<text transform="translate(230.5,306.5) scale(0.968,1)">E<tspan font-size="7.8" dx="0.2" dy="4.6">s</tspan><tspan dy="-4.6" dx="0.8">(n,<tspan dx="-0.7">γ</tspan><tspan dx="-1.5">=</tspan><tspan dx="0.8">9</tspan>/10)</tspan></text>
<text transform="translate(230.5,324.9) scale(0.968,1)">E<tspan dx="0.3" dy="-1">′</tspan><tspan font-size="7.8" dx="-3.9" dy="5.5">s</tspan><tspan dy="-4.5" dx="0.9">(n, <tspan dx="-1.6">γ</tspan><tspan dx="-1.4">=</tspan>1<tspan dx="0.7">)</tspan></tspan></text>
<text transform="translate(230.1,343.2) scale(0.968,1)">Kowalski et al. (2007)</text>
<text transform="translate(230.1,358.9) scale(0.968,1)">Danielewicz &amp; Lee (2013)</text>
</g>
</svg>
</body></html>
